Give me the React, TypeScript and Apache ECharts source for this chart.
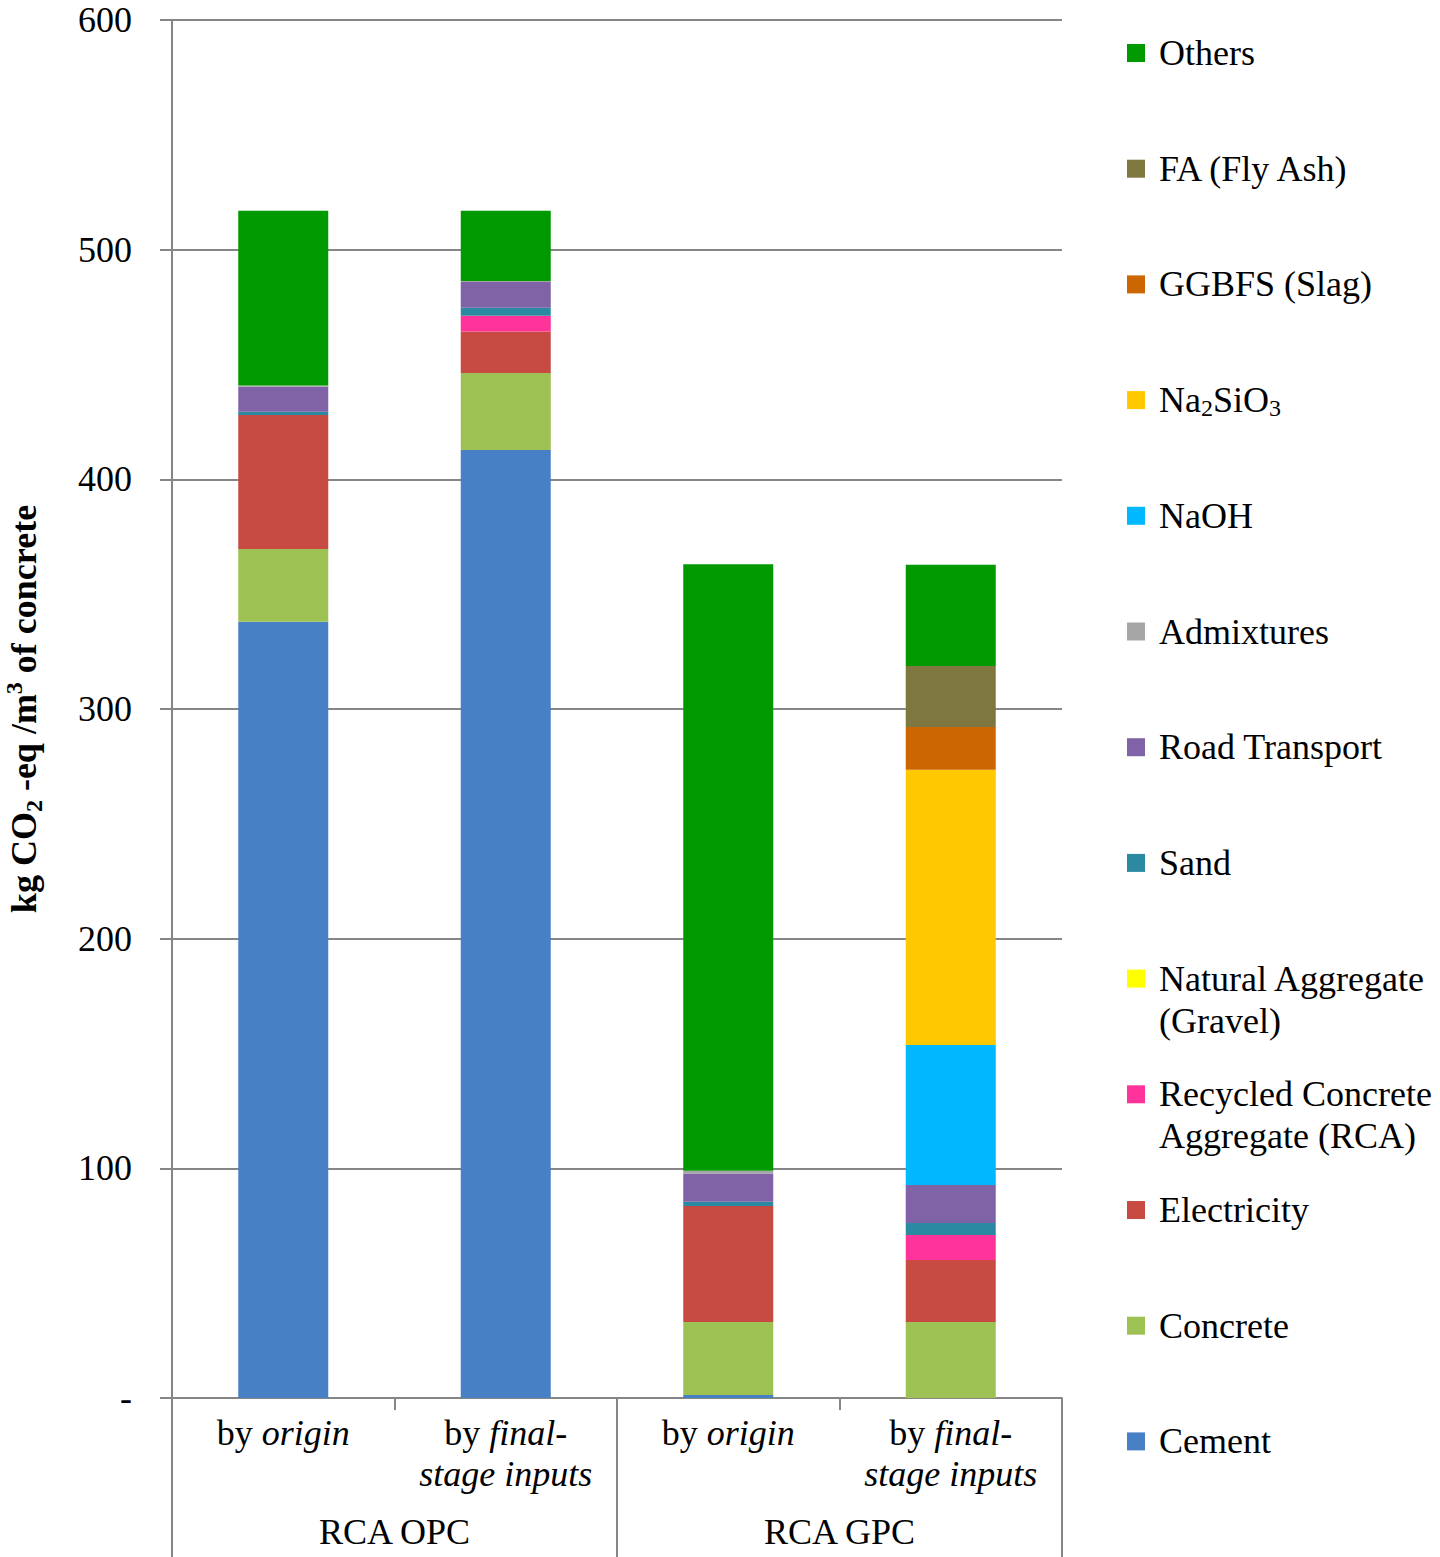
import React, { useEffect, useRef } from "react";
import * as echarts from "echarts";

const categories = ["by origin", "by final-stage inputs", "by origin", "by final-stage inputs"];
const groups = ["RCA OPC", "RCA GPC"];
const yTicks = [0, 100, 200, 300, 400, 500, 600];

const seriesNames = [
  "Cement",
  "Concrete",
  "Electricity",
  "Recycled Concrete Aggregate (RCA)",
  "Natural Aggregate (Gravel)",
  "Sand",
  "Road Transport",
  "Admixtures",
  "NaOH",
  "Na2SiO3",
  "GGBFS (Slag)",
  "FA (Fly Ash)",
  "Others",
];

const cement = [338, 412.8, 1.3, 0];
const concrete = [31.7, 33.5, 31.8, 33.1];
const electricity = [58.3, 18.1, 50.5, 27];
const rca = [0, 6.8, 0, 10.9];
const naturalAggregate = [0, 0, 0, 0];
const sand = [1.4, 3.5, 1.9, 5.2];
const roadTransport = [10.9, 11.2, 12.3, 16.5];
const admixtures = [0.6, 0.5, 1.2, 0];
const naoh = [0, 0, 0, 61];
const na2sio3 = [0, 0, 0, 119.9];
const ggbfs = [0, 0, 0, 18.6];
const flyAsh = [0, 0, 0, 26.5];
const others = [76, 30.5, 264, 44.1];

const seriesValues = [
  cement, concrete, electricity, rca, naturalAggregate, sand,
  roadTransport, admixtures, naoh, na2sio3, ggbfs, flyAsh, others,
];

const colors = [
  "#4780C5", "#9DC153", "#C84B43", "#FF3399", "#FFFF00", "#2B8AA2",
  "#8062A7", "#A6A6A6", "#00B8FF", "#FFC800", "#CC6600", "#7F7740", "#009900",
];

// legend labels (rich text), top to bottom
const legendLabels = [
  ["Others"],
  ["FA (Fly Ash)"],
  ["GGBFS (Slag)"],
  ["{n|Na}{s|2}{n|SiO}{s|3}"],
  ["NaOH"],
  ["Admixtures"],
  ["Road Transport"],
  ["Sand"],
  ["Natural Aggregate", "(Gravel)"],
  ["Recycled Concrete", "Aggregate (RCA)"],
  ["Electricity"],
  ["Concrete"],
  ["Cement"],
];

const FONT = "'Liberation Serif', 'Times New Roman', serif";
const GRID_COLOR = "#868686";

export default function App() {
  const ref = useRef<HTMLDivElement>(null);
  useEffect(() => {
    document.body.style.margin = "0";
    const chart = echarts.init(ref.current!, null, { renderer: "svg" });

    const legendGraphics: any[] = [];
    const n = seriesNames.length;
    for (let k = 0; k < n; k++) {
      const sIdx = n - 1 - k;
      const yc = 53 + k * 115.7;
      legendGraphics.push({
        type: "rect",
        shape: { x: 1127, y: yc - 9, width: 18, height: 18 },
        style: { fill: colors[sIdx] },
      });
      const lines = legendLabels[k];
      lines.forEach((line, li) => {
        legendGraphics.push({
          type: "text",
          x: 1159,
          y: yc + li * 42,
          style: {
            text: line,
            fontFamily: FONT,
            fontSize: 36,
            fill: "#000",
            verticalAlign: "middle",
            align: "left",
            rich: {
              n: { fontFamily: FONT, fontSize: 36, fill: "#000", lineHeight: 40, verticalAlign: "middle" },
              s: { fontFamily: FONT, fontSize: 24, fill: "#000", lineHeight: 24, verticalAlign: "bottom" },
            },
          },
        });
      });
    }

    const option: any = {
      animation: false,
      backgroundColor: "#fff",
      grid: { left: 172, right: 378, top: 20, bottom: 159, containLabel: false, outerBoundsMode: "none" },
      xAxis: [
        {
          type: "category",
          position: "bottom",
          data: categories,
          axisLine: { show: true, lineStyle: { color: GRID_COLOR, width: 2 } },
          axisTick: { show: true, length: 12, lineStyle: { color: GRID_COLOR, width: 2 } },
          axisLabel: {
            interval: 0,
            margin: 14,
            color: "#000",
            fontFamily: FONT,
            fontSize: 36,
            lineHeight: 41,
            formatter: (v: string) => {
              if (v === "by origin") return "by {i|origin}";
              return "by {i|final-}\n{i|stage inputs}";
            },
            rich: {
              i: { fontStyle: "italic", fontFamily: FONT, fontSize: 36, color: "#000", lineHeight: 41 },
            },
          },
          splitLine: { show: false },
        },
        {
          type: "category",
          position: "bottom",
          data: groups,
          axisLine: { show: false },
          axisTick: { show: true, length: 159, lineStyle: { color: GRID_COLOR, width: 2 } },
          axisLabel: { margin: 116, color: "#000", fontFamily: FONT, fontSize: 36 },
          splitLine: { show: false },
        },
      ],
      yAxis: {
        type: "value",
        min: yTicks[0],
        max: yTicks[yTicks.length - 1],
        interval: 100,
        name: "{b|kg CO}{sb|2}{b| -eq /m}{sp|3}{b| of concrete}",
        nameLocation: "middle",
        nameGap: 126,
        nameTextStyle: {
          fontFamily: FONT,
          fontSize: 36,
          fontWeight: "bold",
          color: "#000",
          rich: {
            b: { fontFamily: FONT, fontSize: 36, fontWeight: "bold", color: "#000", lineHeight: 44, verticalAlign: "middle" },
            sb: { fontFamily: FONT, fontSize: 24, fontWeight: "bold", color: "#000", lineHeight: 24, verticalAlign: "bottom" },
            sp: { fontFamily: FONT, fontSize: 24, fontWeight: "bold", color: "#000", lineHeight: 24, verticalAlign: "top" },
          },
        },
        axisLine: { show: true, lineStyle: { color: GRID_COLOR, width: 2 } },
        axisTick: { show: true, length: 12, lineStyle: { color: GRID_COLOR, width: 2 } },
        axisLabel: {
          margin: 40,
          color: "#000",
          fontFamily: FONT,
          fontSize: 36,
          formatter: (v: number) => (v === 0 ? "-" : String(v)),
        },
        splitLine: { show: true, lineStyle: { color: GRID_COLOR, width: 2 } },
      },
      series: seriesNames.map((name, i) => ({
        name,
        type: "bar",
        stack: "total",
        xAxisIndex: 0,
        barWidth: 90,
        data: seriesValues[i],
        itemStyle: { color: colors[i] },
      })),
      graphic: legendGraphics,
    };
    chart.setOption(option);
    return () => chart.dispose();
  }, []);
  return <div ref={ref} style={{ width: 1440, height: 1557 }} />;
}
